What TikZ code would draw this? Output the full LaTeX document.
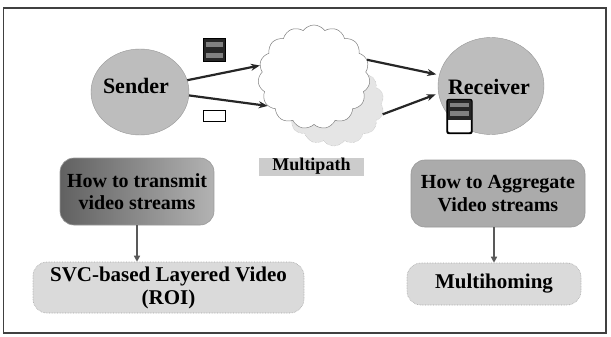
\documentclass[tikz,border=0pt]{standalone}
\usepackage{fontspec}
\setmainfont{Liberation Serif}
\usetikzlibrary{shapes.symbols,shapes.geometric,arrows.meta}
\definecolor{circgray}{HTML}{BDBDBD}
\definecolor{boxdark}{HTML}{8E8E8E}
\definecolor{boxmid}{HTML}{ABABAB}
\definecolor{boxlight}{HTML}{DADADA}
\definecolor{pkt}{HTML}{262626}
\tikzset{
  peer/.style={ellipse, fill=circgray, draw=circgray!80!black, line width=0.4pt, inner sep=0pt},
  peertext/.style={font=\fontsize{22}{24}\selectfont\bfseries},
  upbox/.style={rectangle, rounded corners=14pt, draw=gray!80, line width=0.6pt, inner sep=0pt, align=center,
    font=\fontsize{20}{22.5}\selectfont\bfseries},
  lowbox/.style={rectangle, rounded corners=14pt, draw=gray!70, line width=0.6pt, densely dotted, fill=boxlight, inner sep=0pt, align=center,
    font=\fontsize{21}{23}\selectfont\bfseries},
  flow/.style={-{Stealth[length=9pt,width=7pt]}, line width=2.2pt, draw=black!85},
  down/.style={-{Triangle[length=6pt,width=6pt]}, line width=1.6pt, draw=black!65},
  pktbox/.style={rectangle, inner sep=0pt, draw=black, line width=1.2pt},
}
\begin{document}
\begin{tikzpicture}[x=1pt,y=-1pt]
\useasboundingbox (0,0) rectangle (611,337);
\fill[white] (0,0) rectangle (611,337);
\draw[line width=1.4pt, black!75] (3.5,8) rectangle (606,333);

% clouds
\node[cloud, cloud puffs=14, cloud puff arc=110, aspect=1.15, minimum width=100pt, minimum height=84pt,
  draw=gray!70, densely dotted, fill=gray!20, inner sep=0pt] (cloudb) at (334,104) {};
\node[cloud, cloud puffs=15, cloud puff arc=110, aspect=1, minimum width=112pt, minimum height=104pt,
  draw=gray, fill=white, inner sep=0pt, line width=0.5pt] (cloud) at (314,77) {};

% peers
\node[peer, minimum width=98pt, minimum height=86pt] (sender) at (140,92) {};
\node[peertext] (sendert) at (136,86) {Sender};
\node[peer, minimum width=106pt, minimum height=97pt] (receiver) at (491,86) {};
\node[peertext] (receivert) at (489,87) {Receiver};

% packets near sender
\node[pktbox, fill=pkt, minimum width=22pt, minimum height=23pt] (pk1) at (214.5,50) {};
\fill[black!50] ([xshift=3pt,yshift=-4pt]pk1.north west) rectangle ([xshift=-3pt,yshift=-9pt]pk1.north east);
\fill[black!50] ([xshift=3pt,yshift=9pt]pk1.south west) rectangle ([xshift=-3pt,yshift=4pt]pk1.south east);
\node[pktbox, fill=white, minimum width=22pt, minimum height=11pt] (pk2) at (214.5,116) {};

% receiver stack
\node[pktbox, fill=white, rounded corners=2pt, minimum width=24pt, minimum height=33pt] (stack) at (459.5,116.5) {};
\fill[pkt] ([xshift=0.6pt,yshift=-0.6pt]stack.north west) rectangle ([xshift=-0.6pt,yshift=-21pt]stack.north east);
\fill[black!50] ([xshift=3pt,yshift=-4pt]stack.north west) rectangle ([xshift=-3pt,yshift=-8pt]stack.north east);
\fill[black!50] ([xshift=3pt,yshift=-12pt]stack.north west) rectangle ([xshift=-3pt,yshift=-17pt]stack.north east);
\draw[black, line width=1.2pt, rounded corners=2pt] (stack.north west) rectangle (stack.south east);

% flows
\draw[flow] (sender.14) -- (cloud.168);
\draw[flow] (sender.-4) -- (cloud.212);
\draw[flow, shorten >=3pt] (cloud.18) -- (receiver.168);
\draw[flow, shorten >=3pt] (cloudb.-12) -- (receiver.188);

% multipath label
\node[fill=gray!40, minimum width=105pt, minimum height=18pt, inner sep=0pt,
  font=\fontsize{18}{19}\selectfont\bfseries] (mp) at (311.5,166.5) {Multipath};

% boxes
\node[upbox, left color=black!62, right color=black!30, minimum width=154pt, minimum height=67pt] (lt) at (137,191.5)
  {How to transmit\\video streams};
\node[lowbox, minimum width=271pt, minimum height=51pt] (svc) at (168.5,287.5)
  {SVC-based Layered Video\\(ROI)};
\node[upbox, fill=boxmid, minimum width=174pt, minimum height=67pt] (rt) at (498,193.5)
  {How to Aggregate\\Video streams};
\node[lowbox, minimum width=174pt, minimum height=42pt] (mh) at (494,284) {Multihoming};

\draw[down] (lt.south) -- (lt.south |- svc.north);
\draw[down] (rt.south -| mh.north) -- (mh.north);
\end{tikzpicture}
\end{document}
